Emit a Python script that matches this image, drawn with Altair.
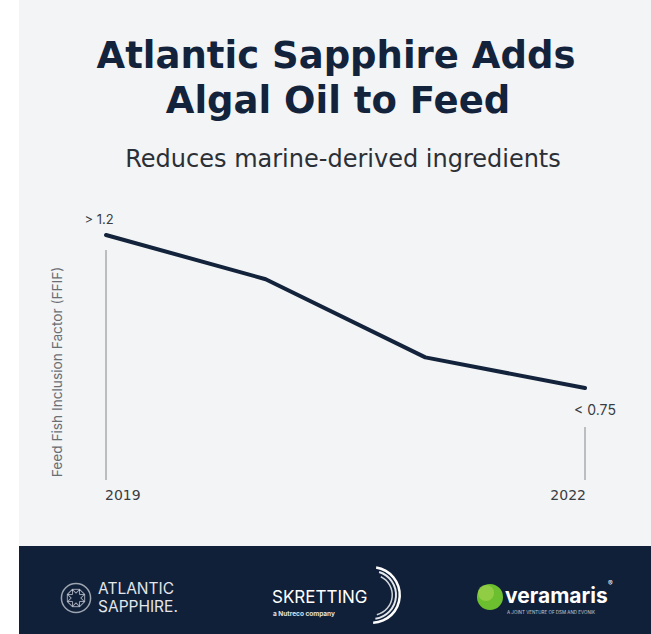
import altair as alt
import pandas as pd

# Feed Fish Inclusion Factor by year
years = [2019, 2020, 2021, 2022]
ffif = [1.2, 1.07, 0.84, 0.75]
end_labels = ["> 1.2", "", "", "< 0.75"]

title_lines = ["Atlantic Sapphire Adds", "Algal Oil to Feed"]
subtitle = "Reduces marine-derived ingredients"
axis_title = "Feed Fish Inclusion Factor (FFIF)"

W, H = 651, 634
NAVY = "#13233b"
FONT = "Inter"
WIDE = "DejaVu Sans"

df = pd.DataFrame({"year": years, "ffif": ffif, "label": end_labels})

xs = alt.Scale(domain=[2019, 2022], range=[106, 585])
ys = alt.Scale(domain=[0.75, 1.2], range=[388, 235])
X = alt.X("year:Q", scale=xs, axis=None)
Y = alt.Y("ffif:Q", scale=ys, axis=None)

one = pd.DataFrame({"k": [0]})

# page panels
panel = alt.Chart(one).mark_rect(color="#f3f4f5").encode(
    x=alt.value(19), x2=alt.value(W), y=alt.value(0), y2=alt.value(546))
footer = alt.Chart(one).mark_rect(color="#112039").encode(
    x=alt.value(19), x2=alt.value(W), y=alt.value(546), y2=alt.value(H))

# headings
t1 = alt.Chart(one).mark_text(font=WIDE, fontSize=37, fontWeight="bold", color=NAVY,
                              baseline="alphabetic", align="center").encode(
    x=alt.value(336), y=alt.value(68), text=alt.value(title_lines[0]))
t2 = alt.Chart(one).mark_text(font=WIDE, fontSize=37, fontWeight="bold", color=NAVY,
                              baseline="alphabetic", align="center").encode(
    x=alt.value(338), y=alt.value(113), text=alt.value(title_lines[1]))
st = alt.Chart(one).mark_text(font=WIDE, fontSize=24, color="#2b2f36",
                              baseline="alphabetic", align="center").encode(
    x=alt.value(343), y=alt.value(167), text=alt.value(subtitle))
yt = alt.Chart(one).mark_text(font=FONT, fontSize=13.7, color="#6b6e73", angle=270,
                              baseline="middle", align="center").encode(
    x=alt.value(58), y=alt.value(372), text=alt.value(axis_title))

# guide rules below the endpoints
base = alt.Chart(df)
rule_a = base.transform_filter("datum.year == 2019").mark_rule(
    color="#a9abae", strokeWidth=1.5).encode(x=X, y=alt.value(250), y2=alt.value(480))
rule_b = base.transform_filter("datum.year == 2022").mark_rule(
    color="#a9abae", strokeWidth=1.5).encode(x=X, y=alt.value(427), y2=alt.value(480))

line = base.mark_line(color=NAVY, strokeWidth=4, strokeCap="round",
                      strokeJoin="round").encode(x=X, y=Y)

lab_a = base.transform_filter("datum.year == 2019").mark_text(
    font=FONT, fontSize=13, color="#3a3d42", align="center", baseline="alphabetic",
    dx=-7, dy=-11).encode(x=X, y=Y, text="label:N")
lab_b = base.transform_filter("datum.year == 2022").mark_text(
    font=FONT, fontSize=14, color="#3a3d42", align="center", baseline="alphabetic",
    dx=10, dy=27).encode(x=X, y=Y, text="label:N")

yr_a = base.transform_filter("datum.year == 2019").mark_text(
    font=WIDE, fontSize=14, color="#3a3d42", align="left", baseline="alphabetic",
    dx=-1).encode(x=X, y=alt.value(500), text="year:N")
yr_b = base.transform_filter("datum.year == 2022").mark_text(
    font=WIDE, fontSize=14, color="#3a3d42", align="right", baseline="alphabetic",
    dx=1).encode(x=X, y=alt.value(500), text="year:N")

# partner marks in the footer
def txt(s, x, y, size, weight="normal", align="left", color="white", font=FONT):
    return alt.Chart(one).mark_text(font=font, fontSize=size, fontWeight=weight, color=color,
                                    align=align, baseline="alphabetic").encode(
        x=alt.value(x), y=alt.value(y), text=alt.value(s))

emblem = alt.Chart(one).mark_point(shape="circle", size=850, filled=False,
                                   color="#d8dce3", strokeWidth=1.5).encode(
    x=alt.value(76), y=alt.value(598))
emblem_in = [
    alt.Chart(one).mark_point(shape="cross", size=300, filled=False,
                              color="#d8dce3", strokeWidth=1, angle=a).encode(
        x=alt.value(76), y=alt.value(598))
    for a in (0, 45)
]

def arc(r, r2, t1_, t2_, color):
    return alt.Chart(one).mark_arc(color=color, radius=r, radius2=r2,
                                   theta=t1_, theta2=t2_).encode(
        x=alt.value(372), y=alt.value(595))

skr_arcs = [
    arc(29, 26.5, 0.15, 3.1, "white"),
    arc(25, 23, 0.3, 3.0, "#e3e7ec"),
    arc(21, 19.5, 0.45, 2.9, "#cfd4da"),
]
vera_ball = alt.Chart(one).mark_point(shape="circle", size=680, filled=True,
                                      color="#6cbf2e", opacity=1).encode(
    x=alt.value(490), y=alt.value(597))
vera_shade = alt.Chart(one).mark_point(shape="circle", size=260, filled=True,
                                       color="#9ad14a", opacity=0.8).encode(
    x=alt.value(486), y=alt.value(593))

footer_text = [
    txt("ATLANTIC", 98, 594, 15.5, color="#e3e6ea"),
    txt("SAPPHIRE.", 98, 612, 15.5, color="#e3e6ea"),
    txt("SKRETTING", 272, 603, 17, color="white"),
    txt("a Nutreco company", 273, 616, 6.5, weight="bold", color="#dfe3e8"),
    txt("veramaris", 505, 603, 21, weight="bold", color="white"),
    txt("®", 608, 586, 7, color="white"),
    txt("A JOINT VENTURE OF DSM AND EVONIK", 507, 614, 4.5, color="#c8ccd2"),
]

chart = alt.layer(
    panel, footer, t1, t2, st, yt, rule_a, rule_b, line, lab_a, lab_b, yr_a, yr_b,
    emblem, *emblem_in, *skr_arcs, vera_ball, vera_shade, *footer_text
).properties(
    width=W, height=H, padding=0, autosize=alt.AutoSizeParams(type="none"),
    background="white"
).configure_view(strokeWidth=0)

chart.save("out.html", embed_options={"renderer": "svg", "actions": False})
